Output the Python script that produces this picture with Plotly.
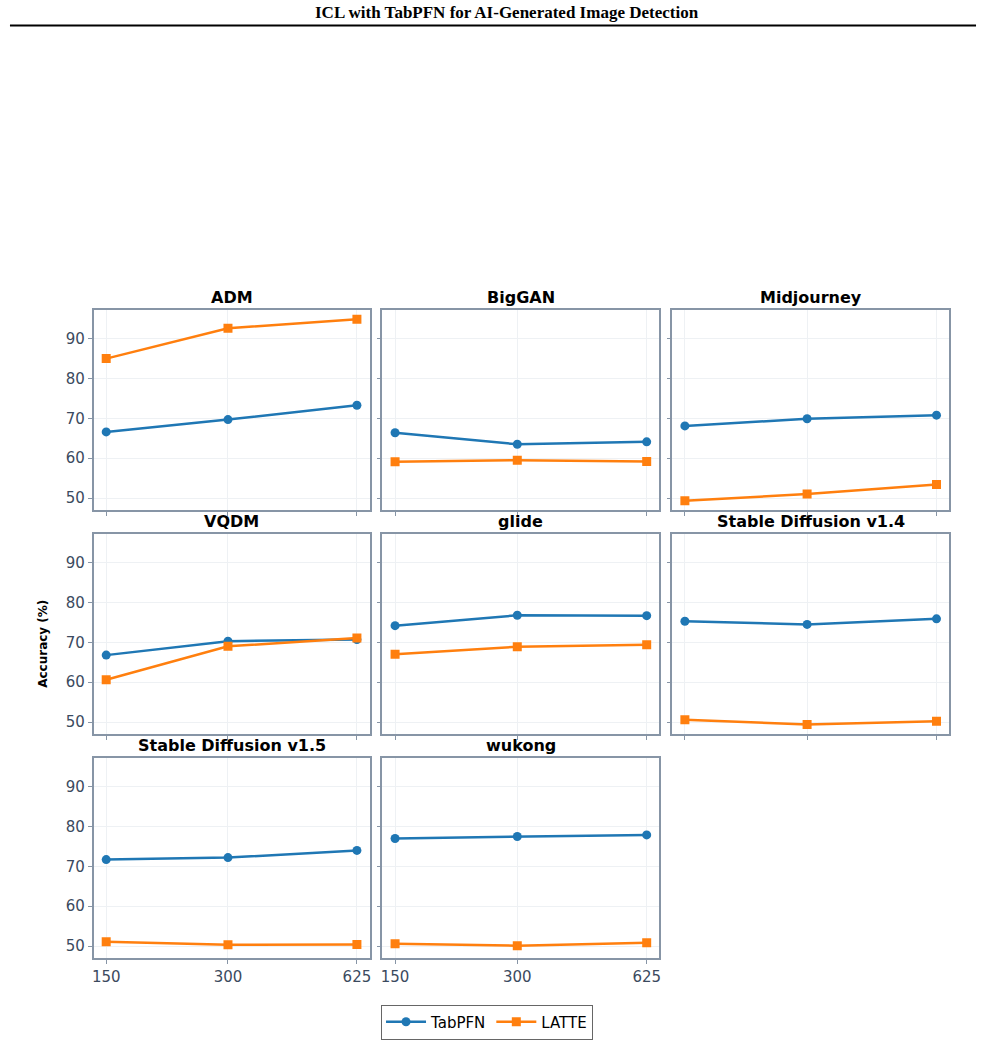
import plotly.graph_objects as go

W, H = 985, 1043

panels = ["ADM", "BigGAN", "Midjourney", "VQDM", "glide",
          "Stable Diffusion v1.4", "Stable Diffusion v1.5", "wukong"]
shots = [150, 300, 625]
tabpfn = [
    [66.6, 69.7, 73.3],
    [66.4, 63.5, 64.1],
    [68.1, 69.9, 70.8],
    [66.8, 70.3, 70.7],
    [74.2, 76.8, 76.7],
    [75.3, 74.5, 75.9],
    [71.7, 72.2, 74.0],
    [77.0, 77.5, 77.9],
]
latte = [
    [85.0, 92.6, 94.9],
    [59.1, 59.5, 59.2],
    [49.3, 51.0, 53.4],
    [60.6, 69.0, 71.1],
    [67.0, 68.9, 69.4],
    [50.6, 49.4, 50.2],
    [51.1, 50.3, 50.4],
    [50.6, 50.1, 50.8],
]
yticks = [50, 60, 70, 80, 90]

BLUE = "#1f77b4"
ORANGE = "#ff7f0e"
AXC = "#8795a6"
GRIDC = "#eef1f4"
TICKFONT = dict(family="DejaVu Sans", size=15, color="#3b4a5e")

col_px = [(92, 369), (382, 660), (673, 951)]
row_px = [(310, 510), (534, 734), (758, 958)]

fig = go.Figure()
layout = dict(
    width=W, height=H, margin=dict(l=0, r=0, t=0, b=0),
    paper_bgcolor="white", plot_bgcolor="white", showlegend=True,
)
annotations = []
for i, name in enumerate(panels):
    r, c = divmod(i, 3)
    xa = "x" if i == 0 else f"x{i+1}"
    ya = "y" if i == 0 else f"y{i+1}"
    fig.add_trace(go.Scatter(
        x=shots, y=tabpfn[i], xaxis=xa, yaxis=ya, mode="lines+markers",
        name="TabPFN", legendgroup="t", showlegend=(i == 0),
        line=dict(color=BLUE, width=2.5),
        marker=dict(symbol="circle", size=9, color=BLUE)))
    fig.add_trace(go.Scatter(
        x=shots, y=latte[i], xaxis=xa, yaxis=ya, mode="lines+markers",
        name="LATTE", legendgroup="l", showlegend=(i == 0),
        line=dict(color=ORANGE, width=2.5),
        marker=dict(symbol="square", size=9, color=ORANGE)))
    x0, x1 = col_px[c]
    y0, y1 = row_px[r]
    key = "" if i == 0 else str(i + 1)
    common = dict(
        ticks="outside", ticklen=4, tickcolor=AXC,
        showline=True, linecolor=AXC, linewidth=1.5, mirror=True,
        showgrid=True, gridcolor=GRIDC, gridwidth=1,
        zeroline=False, tickfont=TICKFONT)
    layout["xaxis" + key] = dict(
        domain=[x0 / W, x1 / W], anchor=ya, type="log",
        range=[2.145, 2.827], tickvals=shots, ticktext=[str(s) for s in shots],
        showticklabels=(r == 2), **common)
    layout["yaxis" + key] = dict(
        domain=[1 - y1 / H, 1 - y0 / H], anchor=xa,
        range=[47.0, 97.2], tickvals=yticks,
        showticklabels=(c == 0), **common)
    annotations.append(dict(
        text=f"<b>{name}</b>", x=(x0 + x1) / 2 / W, y=1 - (y0 - 1) / H,
        xref="paper", yref="paper", xanchor="center", yanchor="bottom",
        showarrow=False, font=dict(family="DejaVu Sans", size=16, color="black")))

annotations.append(dict(
    text="<b>Accuracy (%)</b>", x=41 / W, y=1 - 644 / H, xref="paper", yref="paper",
    xanchor="center", yanchor="middle", textangle=-90, showarrow=False,
    font=dict(family="DejaVu Sans", size=12, color="black")))
annotations.append(dict(
    text="<b>ICL with TabPFN for AI-Generated Image Detection</b>",
    x=507 / W, y=1 - 13 / H, xref="paper", yref="paper", xanchor="center",
    yanchor="middle", showarrow=False,
    font=dict(family="Liberation Serif", size=17, color="black")))
layout["annotations"] = annotations
layout["shapes"] = [dict(type="line", xref="paper", yref="paper",
                         x0=8 / W, x1=978 / W, y0=1 - 25.5 / H, y1=1 - 25.5 / H,
                         line=dict(color="black", width=2))]
layout["legend"] = dict(
    orientation="h", x=487 / W, y=1 - 1022 / H, xanchor="center", yanchor="middle",
    bordercolor="#666666", borderwidth=1, bgcolor="white",
    font=dict(family="DejaVu Sans", size=15, color="black"),
    itemwidth=40, tracegroupgap=0)
fig.update_layout(**layout)
fig.write_html("out.html")
